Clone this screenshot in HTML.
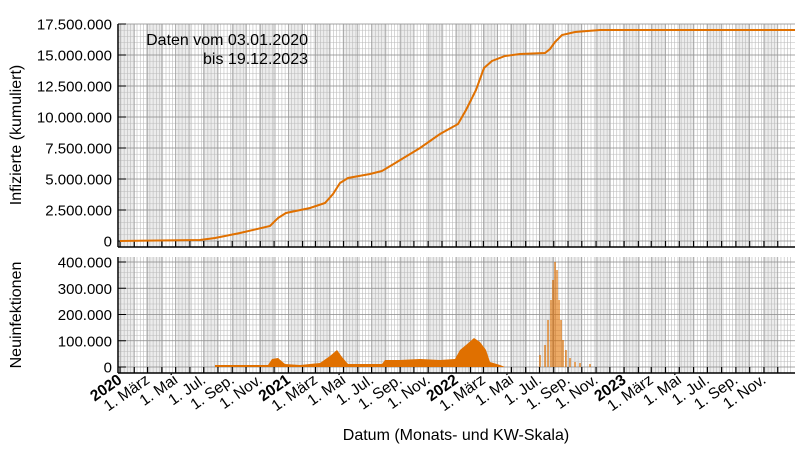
<!DOCTYPE html>
<html><head><meta charset="utf-8"><style>
body{margin:0;background:#fff;}
svg{display:block;font-family:"Liberation Sans",sans-serif;}
</style></head><body>
<svg id="s" width="800" height="450" xmlns="http://www.w3.org/2000/svg"></svg>
<script>
const s=document.getElementById('s');let h='';
const X0=120,YW=168,R=795;
const xd=d=>X0+YW*d/365.25;
const T1=24,B1=247,T2=257,B2=373;
const y1=v=>241-v/2500000*31, y2=v=>367-v/100000*26.25;
const md=[31,28,31,30,31,30,31,31,30,31,30,31];
let d=0,ms=[];
for(let y=2020;y<2024;y++){for(let m=0;m<12;m++){ms.push({d,y,m});let l=md[m]+(m==1&&y%4==0?1:0);d+=l;}}
ms.forEach((o,i)=>{if(i%2==0){const a=xd(o.d),b=xd(i+1<ms.length?ms[i+1].d:d);
[[T1,B1],[T2,B2]].forEach(([t,bb])=>h+=`<rect x="${a}" y="${t}" width="${b-a}" height="${bb-t}" fill="#ececec"/>`);}});
for(let w=2;w<d;w+=7){const x=xd(w);[[T1,B1],[T2,B2]].forEach(([t,bb])=>h+=`<line x1="${x}" y1="${t}" x2="${x}" y2="${bb}" stroke="#bbb" stroke-width="0.6"/>`);}
for(let v=0;v<=17500000;v+=500000){const y=y1(v);h+=`<line x1="${X0-2}" y1="${y}" x2="${R}" y2="${y}" stroke="${v%2500000==0?'#888':'#bbb'}" stroke-width="${v%2500000==0?0.8:0.5}"/>`;}
for(let v=0;v<=400000;v+=20000){const y=y2(v);h+=`<line x1="${X0-2}" y1="${y}" x2="${R}" y2="${y}" stroke="${v%100000==0?'#888':'#bbb'}" stroke-width="${v%100000==0?0.8:0.5}"/>`;}
ms.forEach(o=>{const x=xd(o.d);[[T1,B1],[T2,B2]].forEach(([t,bb])=>h+=`<line x1="${x}" y1="${t}" x2="${x}" y2="${bb}" stroke="#999" stroke-width="0.7"/>`);});
[[T1,B1],[T2,B2]].forEach(([t,bb])=>{h+=`<line x1="${X0-2}" y1="${t}" x2="${X0-2}" y2="${bb}" stroke="#000" stroke-width="1.5"/><line x1="${X0-2}" y1="${bb}" x2="${R}" y2="${bb}" stroke="#000" stroke-width="1.5"/>`;});
ms.forEach(o=>{const x=xd(o.d);[B1,B2].forEach(bb=>h+=`<line x1="${x}" y1="${bb-6}" x2="${x}" y2="${bb}" stroke="#000" stroke-width="1.2"/>`);});
for(let v=0;v<=17500000;v+=2500000){h+=`<text x="112" y="${y1(v)+5.5}" font-size="15" text-anchor="end">${v.toLocaleString('de-DE')}</text><line x1="${X0-2}" y1="${y1(v)}" x2="${X0+6}" y2="${y1(v)}" stroke="#000"/>`;}
for(let v=0;v<=400000;v+=100000){h+=`<text x="112" y="${y2(v)+5.5}" font-size="15" text-anchor="end">${v.toLocaleString('de-DE')}</text><line x1="${X0-2}" y1="${y2(v)}" x2="${X0+6}" y2="${y2(v)}" stroke="#000"/>`;}
const pts=[[120,241],[200,240],[215,238],[240,233],[270,226],[278,218],[286,213],[310,208],[325,203],[333,194],[340,183],[348,178],[370,174],[382,171],[392,165],[420,148],[440,134],[458,124],[466,110],[476,90],[484,68],[492,61],[505,56],[520,54],[545,53],[550,49],[555,42],[562,35],[575,32],[600,30],[795,30]];
h+=`<polyline points="${pts.map(p=>p.join(',')).join(' ')}" fill="none" stroke="#e07000" stroke-width="2"/>`;
const dp=[[215,367],[215,365],[268,365],[272,359],[278,358],[285,364],[300,365],[320,363],[330,356],[337,350],[342,357],[348,364],[382,364],[385,360],[400,360],[420,359],[440,360],[455,359],[460,350],[466,345],[474,338],[480,342],[486,350],[490,362],[500,365],[505,367]];
h+=`<polygon points="${dp.map(p=>p.join(',')).join(' ')}" fill="#e07000"/>`;
const spikes=[[540,355],[545,345],[548,320],[551,300],[553,280],[555,262],[557,270],[559,300],[561,320],[563,340],[566,350],[570,358],[575,362],[580,363],[590,364]];
spikes.forEach(([x,y])=>h+=`<line x1="${x}" y1="367" x2="${x}" y2="${y}" stroke="#e07000" stroke-width="1.2"/>`);
ms.forEach(o=>{if(o.m%2==1)return;const x=xd(o.d)+3;
const names={0:o.y,2:'1. März',4:'1. Mai',6:'1. Jul.',8:'1. Sep.',10:'1. Nov.'};
h+=`<text transform="translate(${x},382) rotate(-35)" text-anchor="end" font-size="15.5" ${o.m==0?'font-weight="bold"':''}>${names[o.m]}</text>`;});
h+=`<text x="308" y="45" font-size="16" text-anchor="end">Daten vom 03.01.2020</text><text x="308" y="64" font-size="16" text-anchor="end">bis 19.12.2023</text>`;
h+=`<text x="456" y="440" font-size="16" text-anchor="middle">Datum (Monats- und KW-Skala)</text>`;
h+=`<text transform="translate(21,135) rotate(-90)" font-size="16" text-anchor="middle">Infizierte (kumuliert)</text>`;
h+=`<text transform="translate(21,315) rotate(-90)" font-size="16" text-anchor="middle">Neuinfektionen</text>`;
s.innerHTML=h;
</script>
</body></html>
